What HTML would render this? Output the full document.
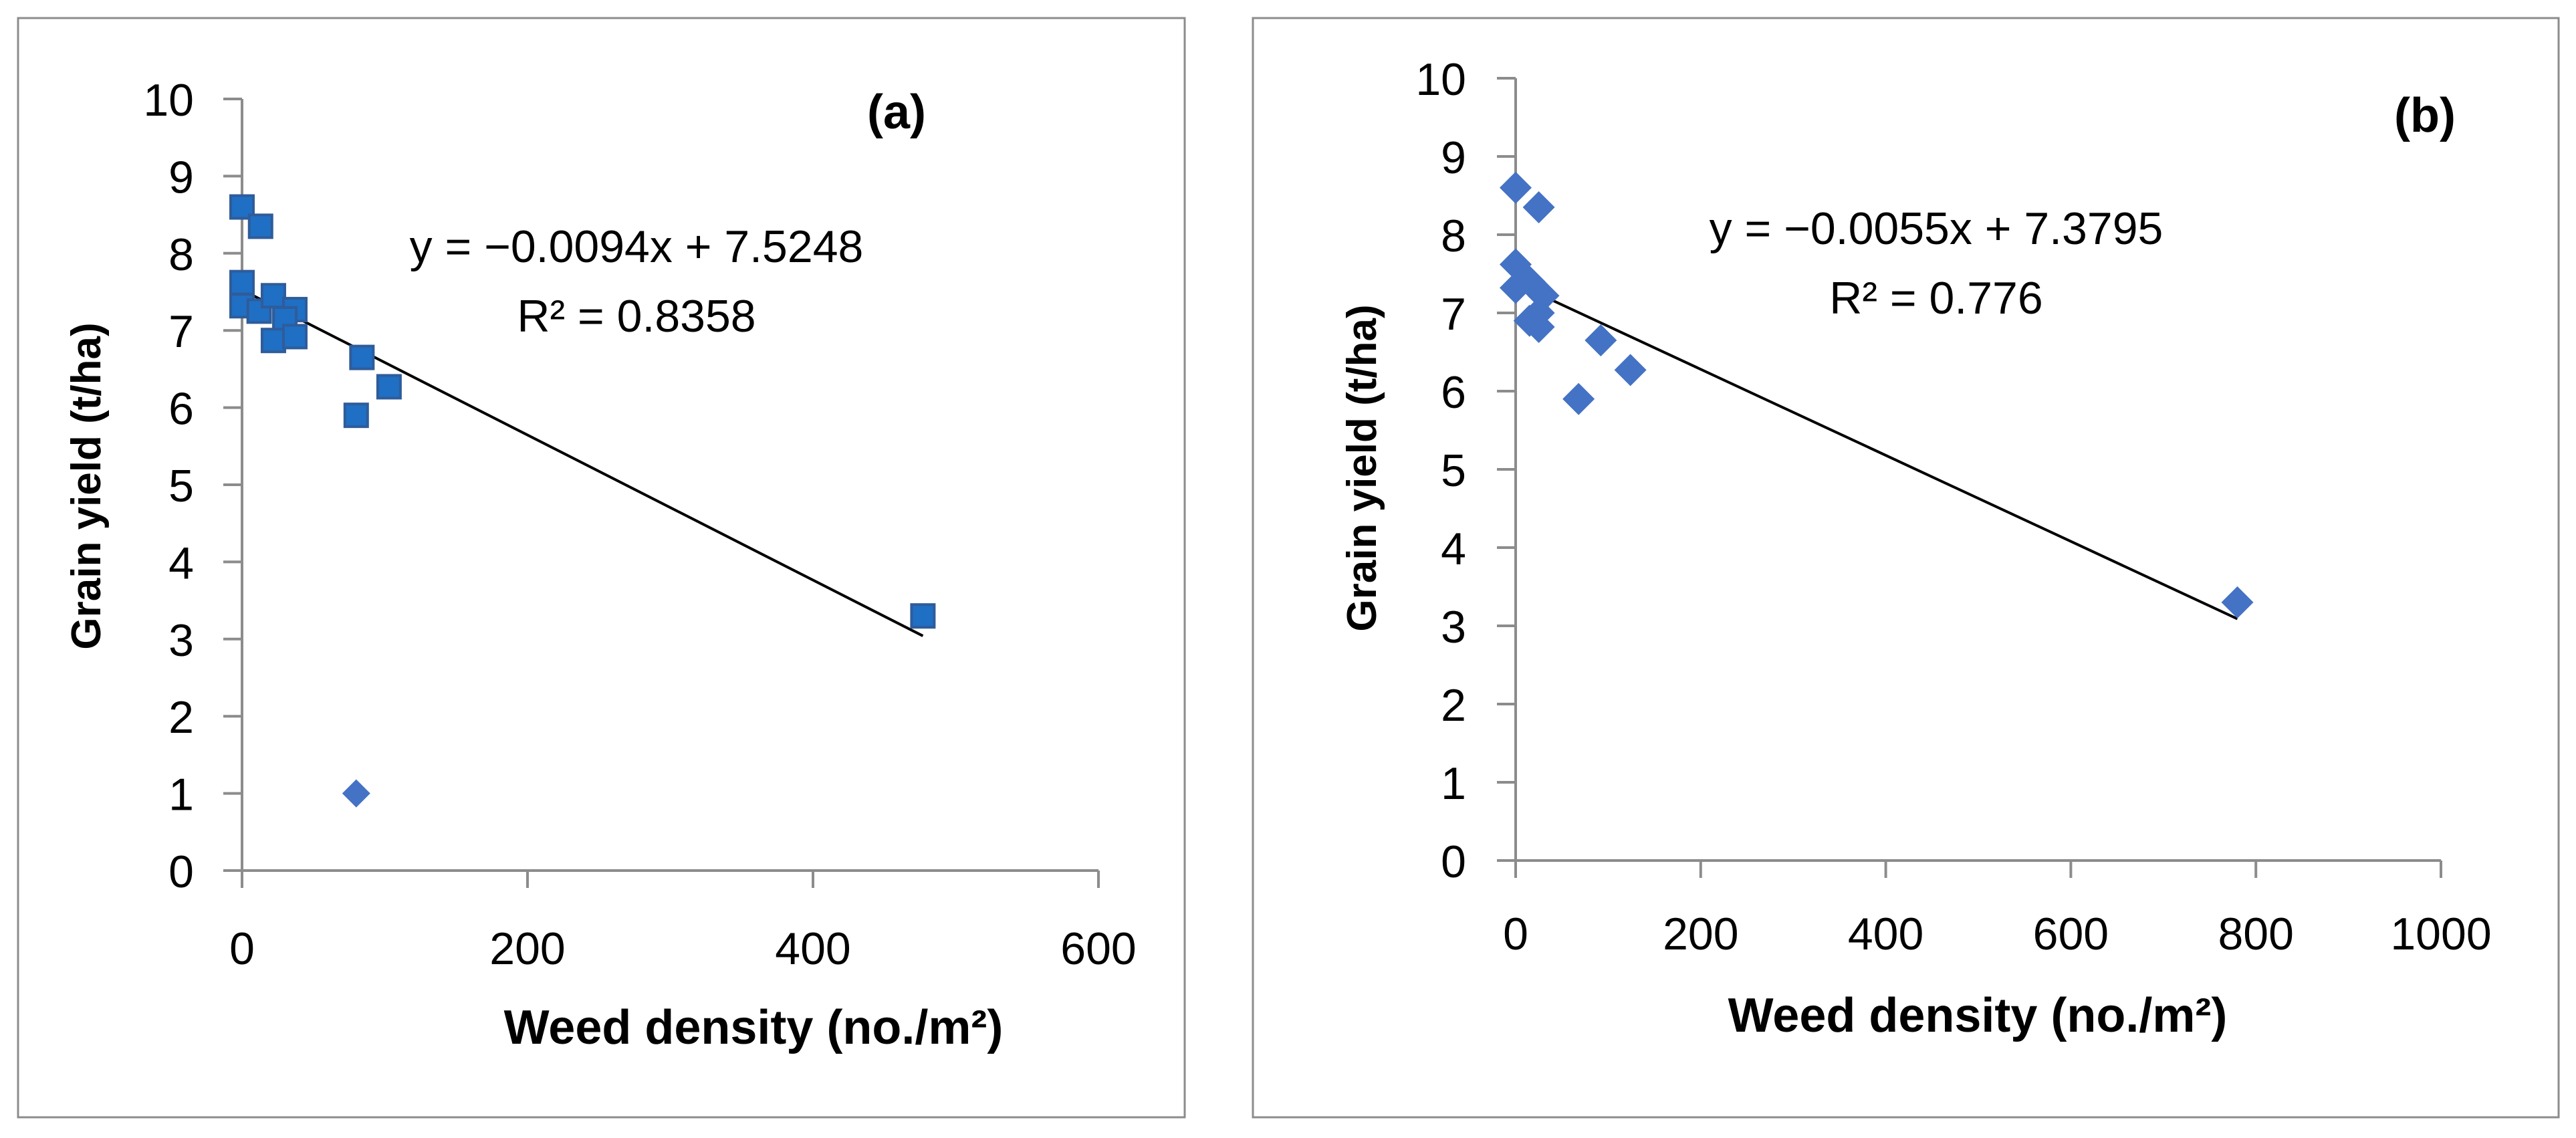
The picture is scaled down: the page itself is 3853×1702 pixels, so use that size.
<!DOCTYPE html>
<html><head><meta charset="utf-8"><style>
html,body{margin:0;padding:0;background:#fff}
svg{display:block}
text{font-family:"Liberation Sans",sans-serif;fill:#000}
</style></head><body>
<svg id="c" width="3853" height="1702" xmlns="http://www.w3.org/2000/svg"></svg>
<script>
const aX = [0,13,0,0,12,22,37,30,22,37,84,80,103,477];
const aY = [8.6,8.35,7.62,7.32,7.25,7.45,7.27,7.15,6.87,6.92,6.65,5.9,6.27,3.3];
const aOutX = [80];
const aOutY = [1.0];
const aSlope = -0.0094, aIntercept = 7.5248, aFitMax = 477;
const aXTicks = [0,200,400,600];
const bX = [0,25,0,0,15,30,25,15,25,92,68,124,780];
const bY = [8.6,8.35,7.62,7.32,7.4,7.22,7.0,6.9,6.82,6.65,5.9,6.27,3.3];
const bSlope = -0.0055, bIntercept = 7.3795, bFitMax = 780;
const bXTicks = [0,200,400,600,800,1000];
const yTicks = [0,1,2,3,4,5,6,7,8,9,10];

const svg = document.getElementById('c');
const NS = 'http://www.w3.org/2000/svg';
function mk(tag, attrs, parent){const e=document.createElementNS(NS,tag);for(const k in attrs)e.setAttribute(k,attrs[k]);(parent||svg).appendChild(e);return e;}

function panel(p){
  const g = mk('g',{});
  
  
  const border = mk('rect',{x:p.bx,y:p.by,width:p.bw,height:p.bh,fill:'none',stroke:'#8c8c8c','stroke-width':3},g);
  
  
  const xs = v => p.x0 + v/(p.xmax) * (p.x1 - p.x0);
  const ys = v => p.y0 - v/10 * (p.y0 - p.y1);
  const ya = mk('line',{x1:p.x0,y1:p.y0,x2:p.x0,y2:p.y1,stroke:'#8c8c8c','stroke-width':4},g);
  
  
  const xa = mk('line',{x1:p.x0-28,y1:p.y0,x2:p.x1,y2:p.y0,stroke:'#8c8c8c','stroke-width':4},g);
  
  
  yTicks.forEach(t=>{
    const y = ys(t);
    mk('line',{x1:p.x0-28,y1:y,x2:p.x0,y2:y,stroke:'#8c8c8c','stroke-width':4},g);
    const tx = mk('text',{x:p.ylx,y:y+25,'text-anchor':'end','font-size':68},g);
    tx.textContent = t;
    
    
  });
  p.xticks.forEach(t=>{
    const x = xs(t);
    mk('line',{x1:x,y1:p.y0,x2:x,y2:p.y0+26,stroke:'#8c8c8c','stroke-width':4},g);
    const tx = mk('text',{x:x,y:p.xly,'text-anchor':'middle','font-size':68},g);
    tx.textContent = t;
    
    
  });
  const tl = mk('line',{x1:xs(0),y1:ys(p.intercept),x2:xs(p.fitMax),y2:ys(p.intercept+p.slope*p.fitMax),stroke:'#000','stroke-width':4},g);
  
  
  p.px.forEach((v,i)=>{
    const cx = xs(v), cy = ys(p.py[i]);
    let e;
    if(p.marker==='square'){
      e = mk('rect',{x:cx-17,y:cy-17,width:34,height:34,fill:'#1f6fc4',stroke:'#2f5c9a','stroke-width':4},g);
    } else {
      e = mk('polygon',{points:`${cx},${cy-24} ${cx+24},${cy} ${cx},${cy+24} ${cx-24},${cy}`,fill:'#4472c4'},g);
    }
    
    
  });
  (p.ox||[]).forEach((v,i)=>{
    const cx = xs(v), cy = ys(p.oy[i]);
    const e = mk('polygon',{points:`${cx},${cy-21} ${cx+21},${cy} ${cx},${cy+21} ${cx-21},${cy}`,fill:'#4472c4'},g);
    
    
  });
  const ttl = mk('text',{x:p.tx,y:p.ty,'text-anchor':'middle','font-size':72,'font-weight':'bold'},g);
  ttl.textContent = p.title;
  
  
  const eq = mk('text',{x:p.ex,y:p.ey,'text-anchor':'middle','font-size':68},g);
  eq.textContent = p.eq;
  
  
  const r2 = mk('text',{x:p.ex,y:p.ey+104,'text-anchor':'middle','font-size':68},g);
  r2.textContent = p.r2;
  
  
  const yt = mk('text',{x:0,y:0,'text-anchor':'middle','font-size':62,'font-weight':'bold',transform:`translate(${p.ytx},${p.yty}) rotate(-90)`},g);
  yt.textContent = 'Grain yield (t/ha)';
  
  
  const xt = mk('text',{x:p.xtx,y:p.xty,'text-anchor':'middle','font-size':72,'font-weight':'bold'},g);
  xt.textContent = 'Weed density (no./m²)';
  
  
}

panel({name:'panel-a',bx:27,by:27,bw:1745,bh:1644,x0:362,x1:1643,y0:1302,y1:148,xmax:600,xticks:aXTicks,
  ylx:290,xly:1442,px:aX,py:aY,ox:aOutX,oy:aOutY,marker:'square',slope:aSlope,intercept:aIntercept,fitMax:aFitMax,
  title:'(a)',tx:1341,ty:192,eq:'y = −0.0094x + 7.5248',r2:'R² = 0.8358',ex:952,ey:392,
  ytx:150,yty:727,xtx:1127,xty:1561});
panel({name:'panel-b',bx:1874,by:27,bw:1953,bh:1644,x0:2267,x1:3651,y0:1287,y1:117,xmax:1000,xticks:bXTicks,
  ylx:2193,xly:1420,px:bX,py:bY,marker:'diamond',slope:bSlope,intercept:bIntercept,fitMax:bFitMax,
  title:'(b)',tx:3627,ty:197,eq:'y = −0.0055x + 7.3795',r2:'R² = 0.776',ex:2896,ey:365,
  ytx:2058,yty:700,xtx:2958,xty:1543});
</script>
</body></html>
